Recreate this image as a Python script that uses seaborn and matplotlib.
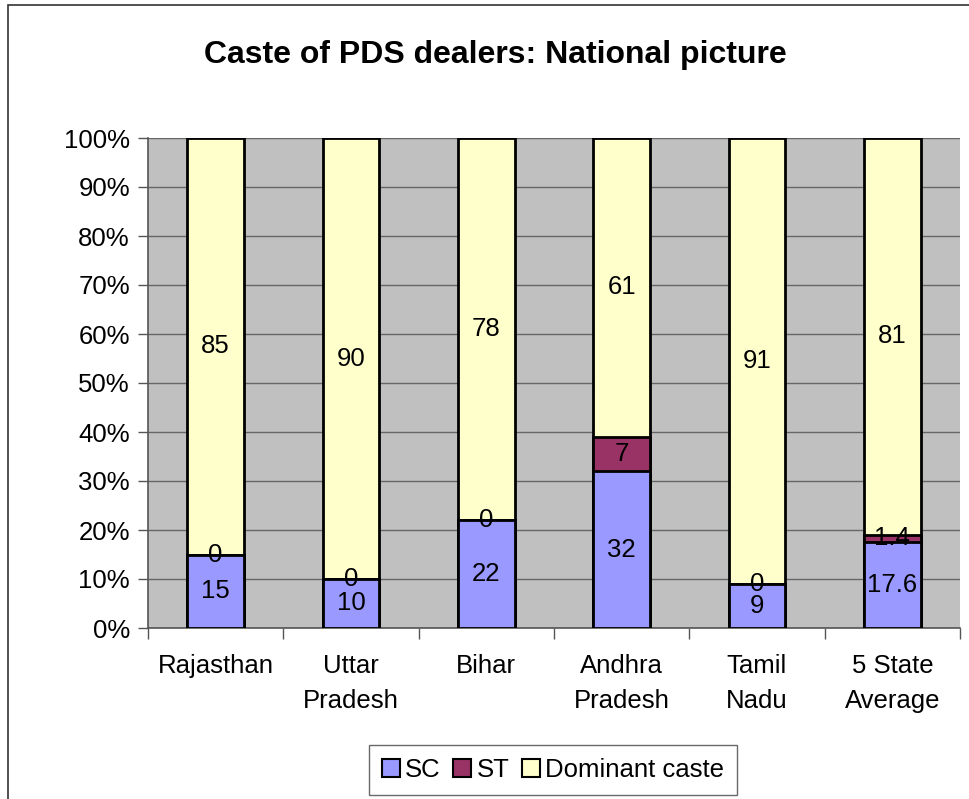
import matplotlib
matplotlib.use("Agg")
import matplotlib.pyplot as plt
from matplotlib.patches import Patch, Rectangle
import numpy as np
import pandas as pd
import seaborn as sns

states = ["Rajasthan", "Uttar\nPradesh", "Bihar", "Andhra\nPradesh", "Tamil\nNadu", "5 State\nAverage"]
sc = [15, 10, 22, 32, 9, 17.6]
st = [0, 0, 0, 7, 0, 1.4]
dominant = [85, 90, 78, 61, 91, 81]
sc_labels = ["15", "10", "22", "32", "9", "17.6"]
st_labels = ["0", "0", "0", "7", "0", "1.4"]
dom_labels = ["85", "90", "78", "61", "91", "81"]

C_SC = "#9999FF"
C_ST = "#993366"
C_DOM = "#FFFFCC"

sns.set_style("white")
plt.rcParams["font.family"] = ["Liberation Sans", "DejaVu Sans"]
plt.rcParams["text.color"] = "black"
plt.rcParams["xtick.color"] = "black"
plt.rcParams["ytick.color"] = "black"

df = pd.DataFrame({"state": states, "sc": sc, "st": st, "dom": dominant})
df["sc_st"] = df["sc"] + df["st"]
df["total"] = df["sc_st"] + df["dom"]

fig = plt.figure(figsize=(9.69, 7.99), dpi=100)
ax = fig.add_axes([148 / 969, 171 / 799, 812 / 969, 490 / 799])
ax.set_facecolor("#C0C0C0")

# stacked bars: draw cumulative totals from the top down
kw = dict(ax=ax, width=0.42, edgecolor="black", linewidth=2.0, saturation=1, zorder=3)
sns.barplot(data=df, x="state", y="total", color=C_DOM, **kw)
sns.barplot(data=df, x="state", y="sc_st", color=C_ST, **kw)
sns.barplot(data=df, x="state", y="sc", color=C_SC, **kw)

fs = 18.5
for i in range(len(states)):
    ax.text(i, sc[i] / 2, sc_labels[i], ha="center", va="center", fontsize=fs, zorder=5)
    ax.text(i, sc[i] + st[i] / 2, st_labels[i], ha="center", va="center", fontsize=fs, zorder=5)
    ax.text(i, sc[i] + st[i] + dominant[i] / 2, dom_labels[i], ha="center", va="center", fontsize=fs, zorder=5)

ax.set_xlim(-0.5, len(states) - 0.5)
ax.set_ylim(0, 100)
ax.set_yticks(np.arange(0, 101, 10))
ax.set_yticklabels([f"{v}%" for v in range(0, 101, 10)], fontsize=fs)
ax.yaxis.grid(True, color="#666666", linewidth=1.0, zorder=0)
ax.set_axisbelow(True)
ax.tick_params(axis="y", length=7, width=1, color="#555555", pad=6, left=True)

ax.set_xticks(range(len(states)))
ax.set_xticklabels(states, fontsize=fs, linespacing=1.58)
ax.tick_params(axis="x", length=0, pad=19)
ax.set_xticks(np.arange(-0.5, len(states), 1), minor=True)
ax.tick_params(axis="x", which="minor", length=8, width=1, color="#555555", bottom=True)
ax.set_xlabel("")
ax.set_ylabel("")

for s in ["top", "right"]:
    ax.spines[s].set_visible(False)
for s in ["left", "bottom"]:
    ax.spines[s].set_color("#555555")
    ax.spines[s].set_linewidth(1.2)

fig.text(495 / 969, 1 - 55 / 799, "Caste of PDS dealers: National picture",
         ha="center", va="center", fontsize=23, fontweight="bold")

handles = [Patch(facecolor=c, edgecolor="black", linewidth=1.5) for c in (C_SC, C_ST, C_DOM)]
leg = fig.legend(handles, ["SC", "ST", "Dominant caste"], loc="upper center",
                 bbox_to_anchor=(553 / 969, 1 - 745 / 799), ncol=3, fontsize=fs,
                 frameon=True, fancybox=False, edgecolor="#444444", borderaxespad=0,
                 handlelength=0.7, handleheight=0.7, handletextpad=0.2,
                 columnspacing=0.5, borderpad=0.5)
leg.get_frame().set_linewidth(1.0)

fig.patches.append(Rectangle((8 / 969, -0.1), 1.2, 1 - 5 / 799 + 0.1,
                             transform=fig.transFigure, fill=False,
                             edgecolor="#333333", linewidth=1.2))

fig.savefig("out.png", dpi=100)
